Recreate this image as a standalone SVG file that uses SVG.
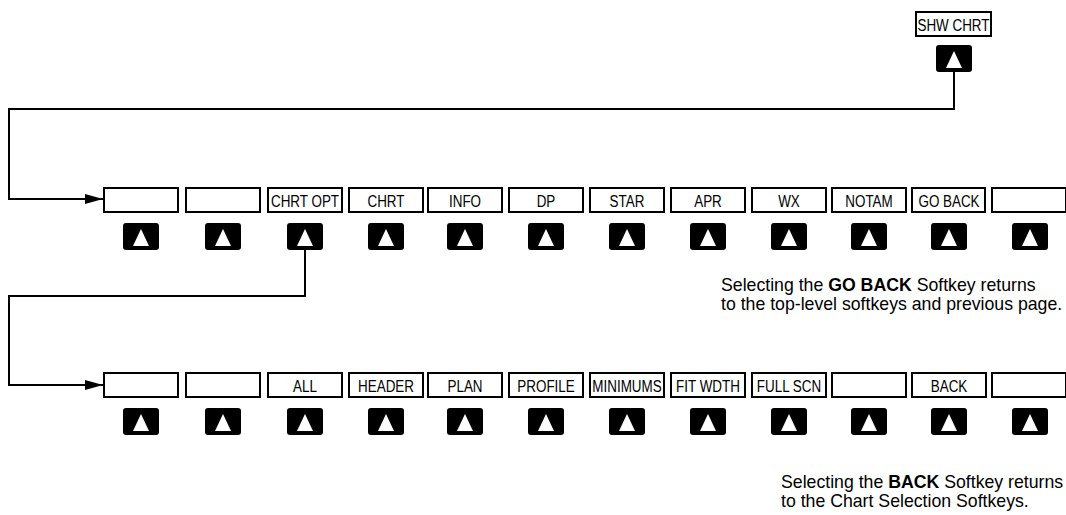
<svg xmlns="http://www.w3.org/2000/svg" xmlns:xlink="http://www.w3.org/1999/xlink" width="1066" height="515" viewBox="0 0 1066 515">
<style>
.box{fill:#fff;stroke:#000;stroke-width:2}
.lbl{font-family:"Liberation Sans",Arial,sans-serif;font-size:17px;text-anchor:middle;fill:#000}
.note{font-family:"Liberation Sans",Arial,sans-serif;font-size:17.7px;fill:#000}
.conn{fill:none;stroke:#000;stroke-width:2}
</style>
<defs>
<g id="btn"><rect x="-18" y="0" width="36" height="27" rx="3" fill="#000"/><polygon points="0,6 -8,23 8,23" fill="#fff"/></g>
<marker id="arr" markerUnits="userSpaceOnUse" viewBox="0 0 18 10" refX="18" refY="5" markerWidth="18" markerHeight="10" orient="auto"><path d="M0,0 L18,5 L0,10 z" fill="#000"/></marker>
</defs>
<rect width="1066" height="515" fill="#fff"/>
<g id="connectors">
<path class="conn" d="M954,72 V109 H9 V199 H103" marker-end="url(#arr)"/>
<path class="conn" d="M305,250 V296 H9 V385 H103" marker-end="url(#arr)"/>
</g>
<g id="shw-chrt">
<rect class="box" x="916" y="12" width="75" height="24"/>
<text class="lbl" transform="translate(953.5,31) scale(0.79,1)">SHW CHRT</text>
<use xlink:href="#btn" x="954" y="45"/>
</g>
<g id="row1">
<g id="r1k1"><rect class="box" x="104" y="188" width="74" height="24"/><use xlink:href="#btn" x="141" y="223"/></g>
<g id="r1k2"><rect class="box" x="186" y="188" width="74" height="24"/><use xlink:href="#btn" x="223" y="223"/></g>
<g id="r1k3"><rect class="box" x="268" y="188" width="74" height="24"/><text class="lbl" transform="translate(305,206.5) scale(0.79,1)">CHRT OPT</text><use xlink:href="#btn" x="305" y="223"/></g>
<g id="r1k4"><rect class="box" x="349" y="188" width="74" height="24"/><text class="lbl" transform="translate(386,206.5) scale(0.79,1)">CHRT</text><use xlink:href="#btn" x="386" y="223"/></g>
<g id="r1k5"><rect class="box" x="428" y="188" width="74" height="24"/><text class="lbl" transform="translate(465,206.5) scale(0.79,1)">INFO</text><use xlink:href="#btn" x="465" y="223"/></g>
<g id="r1k6"><rect class="box" x="509" y="188" width="74" height="24"/><text class="lbl" transform="translate(546,206.5) scale(0.79,1)">DP</text><use xlink:href="#btn" x="546" y="223"/></g>
<g id="r1k7"><rect class="box" x="590" y="188" width="74" height="24"/><text class="lbl" transform="translate(627,206.5) scale(0.79,1)">STAR</text><use xlink:href="#btn" x="627" y="223"/></g>
<g id="r1k8"><rect class="box" x="671" y="188" width="74" height="24"/><text class="lbl" transform="translate(708,206.5) scale(0.79,1)">APR</text><use xlink:href="#btn" x="708" y="223"/></g>
<g id="r1k9"><rect class="box" x="752" y="188" width="74" height="24"/><text class="lbl" transform="translate(789,206.5) scale(0.79,1)">WX</text><use xlink:href="#btn" x="789" y="223"/></g>
<g id="r1k10"><rect class="box" x="832" y="188" width="74" height="24"/><text class="lbl" transform="translate(869,206.5) scale(0.79,1)">NOTAM</text><use xlink:href="#btn" x="869" y="223"/></g>
<g id="r1k11"><rect class="box" x="912" y="188" width="73" height="24"/><text class="lbl" transform="translate(949,206.5) scale(0.79,1)">GO BACK</text><use xlink:href="#btn" x="949" y="223"/></g>
<g id="r1k12"><rect class="box" x="992" y="188" width="74" height="24"/><use xlink:href="#btn" x="1030" y="223"/></g>
</g>
<g id="row2">
<g id="r2k1"><rect class="box" x="104" y="373" width="74" height="24"/><use xlink:href="#btn" x="141" y="408"/></g>
<g id="r2k2"><rect class="box" x="186" y="373" width="74" height="24"/><use xlink:href="#btn" x="223" y="408"/></g>
<g id="r2k3"><rect class="box" x="268" y="373" width="74" height="24"/><text class="lbl" transform="translate(305,391.5) scale(0.79,1)">ALL</text><use xlink:href="#btn" x="305" y="408"/></g>
<g id="r2k4"><rect class="box" x="349" y="373" width="74" height="24"/><text class="lbl" transform="translate(386,391.5) scale(0.79,1)">HEADER</text><use xlink:href="#btn" x="386" y="408"/></g>
<g id="r2k5"><rect class="box" x="428" y="373" width="74" height="24"/><text class="lbl" transform="translate(465,391.5) scale(0.79,1)">PLAN</text><use xlink:href="#btn" x="465" y="408"/></g>
<g id="r2k6"><rect class="box" x="509" y="373" width="74" height="24"/><text class="lbl" transform="translate(546,391.5) scale(0.79,1)">PROFILE</text><use xlink:href="#btn" x="546" y="408"/></g>
<g id="r2k7"><rect class="box" x="590" y="373" width="74" height="24"/><text class="lbl" transform="translate(627,391.5) scale(0.79,1)">MINIMUMS</text><use xlink:href="#btn" x="627" y="408"/></g>
<g id="r2k8"><rect class="box" x="671" y="373" width="74" height="24"/><text class="lbl" transform="translate(708,391.5) scale(0.79,1)">FIT WDTH</text><use xlink:href="#btn" x="708" y="408"/></g>
<g id="r2k9"><rect class="box" x="752" y="373" width="74" height="24"/><text class="lbl" transform="translate(789,391.5) scale(0.79,1)">FULL SCN</text><use xlink:href="#btn" x="789" y="408"/></g>
<g id="r2k10"><rect class="box" x="832" y="373" width="74" height="24"/><use xlink:href="#btn" x="869" y="408"/></g>
<g id="r2k11"><rect class="box" x="912" y="373" width="74" height="24"/><text class="lbl" transform="translate(949,391.5) scale(0.79,1)">BACK</text><use xlink:href="#btn" x="949" y="408"/></g>
<g id="r2k12"><rect class="box" x="992" y="373" width="74" height="24"/><use xlink:href="#btn" x="1030" y="408"/></g>
</g>
<g id="note1">
<text class="note" x="721" y="291">Selecting the <tspan font-weight="bold">GO BACK</tspan> Softkey returns</text>
<text class="note" x="721" y="310">to the top-level softkeys and previous page.</text>
</g>
<g id="note2">
<text class="note" x="781" y="488">Selecting the <tspan font-weight="bold">BACK</tspan> Softkey returns</text>
<text class="note" x="781" y="507">to the Chart Selection Softkeys.</text>
</g>
</svg>
